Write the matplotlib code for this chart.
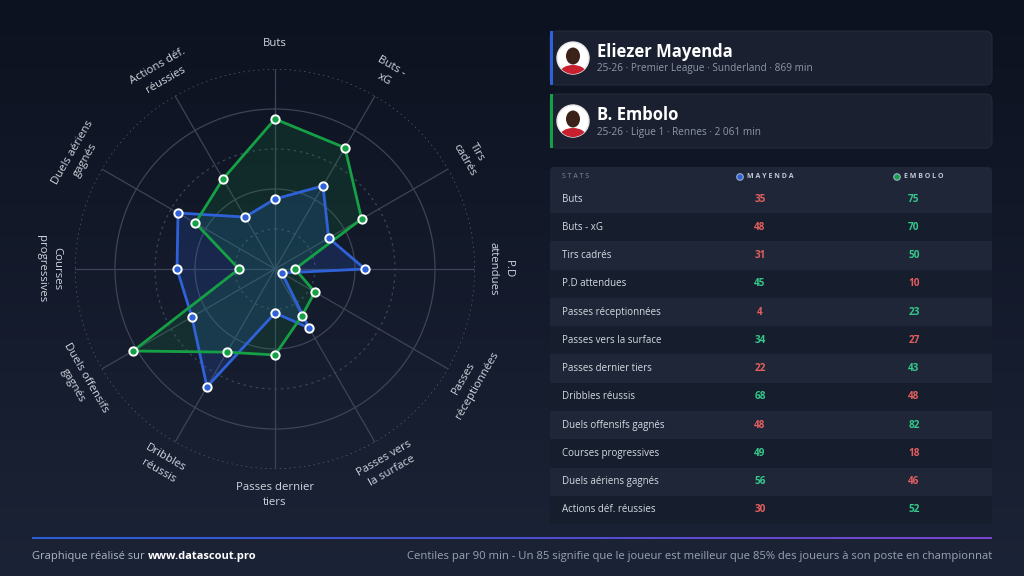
import numpy as np
import matplotlib.pyplot as plt
from matplotlib.patches import FancyBboxPatch, Circle, Ellipse, Rectangle
from matplotlib.colors import LinearSegmentedColormap

plt.rcParams['font.family'] = ['Open Sans', 'DejaVu Sans']

stats = ["Buts", "Buts - xG", "Tirs cadrés", "P.D attendues", "Passes réceptionnées",
         "Passes vers la surface", "Passes dernier tiers", "Dribbles réussis",
         "Duels offensifs gagnés", "Courses progressives", "Duels aériens gagnés",
         "Actions déf. réussies"]
radar_labels = ["Buts", "Buts -\nxG", "Tirs\ncadrés", "P.D\nattendues", "Passes\nréceptionnées",
                "Passes vers\nla surface", "Passes dernier\ntiers", "Dribbles\nréussis",
                "Duels offensifs\ngagnés", "Courses\nprogressives", "Duels aériens\ngagnés",
                "Actions déf.\nréussies"]
mayenda = [35, 48, 31, 45, 4, 34, 22, 68, 48, 49, 56, 30]
embolo = [75, 70, 50, 10, 23, 27, 43, 48, 82, 18, 46, 52]

players = [("Eliezer Mayenda", "25-26 · Premier League · Sunderland · 869 min"),
           ("B. Embolo", "25-26 · Ligue 1 · Rennes · 2 061 min")]

BLUE = "#2f62d8"
GREEN = "#16a046"
UP = "#34c98a"
DOWN = "#e35f5f"
GRID = "#3c4456"
TXT = "#d0d5de"

fig = plt.figure(figsize=(10.24, 5.76), dpi=100)

# full-figure overlay in pixel coordinates
bg = fig.add_axes([0, 0, 1, 1], zorder=0)
bg.set_xlim(0, 1024)
bg.set_ylim(576, 0)
bg.axis("off")
grad = LinearSegmentedColormap.from_list("bg", ["#0d1220", "#1b2336"])
bg.imshow(np.linspace(0, 1, 256).reshape(-1, 1), cmap=grad, aspect="auto",
          extent=[0, 1024, 576, 0], zorder=0)

# player cards
for i, (name, sub) in enumerate(players):
    y0 = 31 + i * 63
    bg.add_patch(FancyBboxPatch((550, y0), 442, 54, boxstyle="round,pad=0,rounding_size=7",
                                fc="#1a2030", ec="#222a3a", lw=0.8, zorder=1))
    bg.add_patch(Rectangle((550, y0), 3, 54, fc=BLUE if i == 0 else GREEN, ec="none", zorder=2))
    cx, cy = 573, y0 + 27
    face = Circle((cx, cy), 16, fc="white", ec="#e6e6e6", lw=1, zorder=3)
    bg.add_patch(face)
    shirt = Ellipse((cx, cy + 15), 26, 16, fc="#c8202e", ec="none", zorder=4)
    head = Ellipse((cx, cy - 2), 14, 17, fc="#3b2219", ec="none", zorder=4)
    for p in (shirt, head):
        bg.add_patch(p)
        p.set_clip_path(face)
    bg.text(597, y0 + 21, name, fontsize=12, fontweight="bold", color="white",
            va="center", ha="left", zorder=5)
    bg.text(597, y0 + 38, sub, fontsize=7.2, color="#8e97a8", va="center", ha="left", zorder=5)

# table
bg.add_patch(FancyBboxPatch((550, 167), 442, 20, boxstyle="round,pad=0,rounding_size=4",
                            fc="#1f2637", ec="none", zorder=1))
bg.text(562, 177, "S T A T S", fontsize=5, color="#7f889a", va="center", zorder=5)
bg.scatter([740, 897], [177, 177], s=22, c=[BLUE, GREEN], edgecolors="#9fb0d0",
           linewidths=0.8, zorder=5)
bg.text(747, 177, "M A Y E N D A", fontsize=5, fontweight="bold", color="#c3c9d4",
        va="center", zorder=5)
bg.text(904, 177, "E M B O L O", fontsize=5, fontweight="bold", color="#c3c9d4",
        va="center", zorder=5)

row_h = 28.27
for i, s in enumerate(stats):
    yc = 199 + i * row_h
    fc = "#1f2637" if i % 2 == 0 else "#161d2c"
    bg.add_patch(Rectangle((550, yc - row_h / 2), 442, row_h, fc=fc, ec="none", zorder=1))
    bg.text(562, yc, s, fontsize=7, color="#d5dae3", va="center", zorder=5)
    m, e = mayenda[i], embolo[i]
    bg.text(760, yc, str(m), fontsize=7.2, fontweight="bold", color=UP if m > e else DOWN,
            ha="center", va="center", zorder=5)
    bg.text(914, yc, str(e), fontsize=7.2, fontweight="bold", color=UP if e > m else DOWN,
            ha="center", va="center", zorder=5)

# footer
line = np.linspace(0, 1, 512).reshape(1, -1)
lcm = LinearSegmentedColormap.from_list("ln", ["#2a5fd6", "#4a4fd0", "#7a45cf"])
bg.imshow(line, cmap=lcm, aspect="auto", extent=[32, 992, 539, 537], zorder=2)
t = bg.text(32, 556, "Graphique réalisé sur ", fontsize=8, color="#aeb5c3", va="center", zorder=5)
bg.annotate("www.datascout.pro", xycoords=t, xy=(1, 0.5), va="center", fontsize=8,
            fontweight="bold", color="white", zorder=5)
bg.text(992, 556, "Centiles par 90 min - Un 85 signifie que le joueur est meilleur que 85% "
        "des joueurs à son poste en championnat", fontsize=8.1, color="#9aa2b2",
        ha="right", va="center", zorder=5)

# radar
ax = fig.add_axes([75 / 1024, 1 - 469 / 576, 400 / 1024, 400 / 576], polar=True, zorder=2)
ax.set_facecolor("none")
ax.set_theta_zero_location("N")
ax.set_theta_direction(-1)
ax.set_ylim(0, 100)
ax.grid(False)
ax.spines["polar"].set_visible(False)
ax.set_xticks([])
ax.set_yticks([])

n = len(stats)
angles = np.arange(n) * 2 * np.pi / n
ring = np.linspace(0, 2 * np.pi, 361)
for r in [20, 40, 60, 80]:
    ls = "-" if r % 40 == 0 else (0, (2, 3))
    ax.plot(ring, np.full_like(ring, r), color=GRID, lw=0.9, ls=ls, zorder=1)
ax.plot(ring, np.full_like(ring, 100), color="#596175", lw=1.0, ls=(0, (1, 2.5)), zorder=1)
for a in angles:
    ax.plot([a, a], [0, 100], color=GRID, lw=0.9, zorder=1)

for vals, col, fa in [(mayenda, BLUE, 0.2), (embolo, GREEN, 0.15)]:
    th = np.append(angles, angles[0])
    rv = np.append(vals, vals[0])
    ax.fill(th, rv, color=col, alpha=fa, zorder=2, lw=0)
    ax.plot(th, rv, color=col, lw=2, zorder=3)
    ax.plot(angles, vals, ls="none", marker="o", ms=6, mfc=col, mec="white", mew=1.4, zorder=4)

# axis labels, one text per line so rotated lines keep their spacing
for a, lab in zip(angles, radar_labels):
    rot = -np.degrees(a)
    rot = (rot + 180) % 360 - 180
    if rot >= 90 or rot < -90:
        rot = (rot + 360) % 360 - 180
    up = np.array([-np.sin(np.radians(rot)), np.cos(np.radians(rot))])
    parts = lab.split("\n")
    for k, part in enumerate(parts):
        off = up * ((len(parts) - 1) / 2 - k) * 11
        ax.annotate(part, xy=(a, 113), xytext=(off[0], off[1]), textcoords="offset points",
                    rotation=rot, rotation_mode="anchor", ha="center", va="center",
                    fontsize=8.2, color=TXT, annotation_clip=False, zorder=5)

fig.savefig("out.png", dpi=100, facecolor="#0d1220")
